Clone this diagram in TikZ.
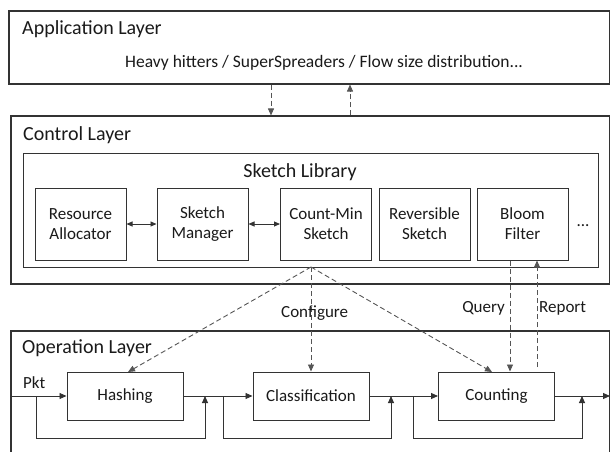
\documentclass[tikz,border=0pt]{standalone}
\usepackage{fontspec}
\setmainfont{Carlito}
\usetikzlibrary{arrows.meta}
\definecolor{edge}{HTML}{333333}
\definecolor{txt}{HTML}{1A1A1A}
\definecolor{dashcol}{HTML}{555555}
\tikzset{
  lbl/.style={font=\fontsize{17}{20}\selectfont, text=txt},
  ttl/.style={font=\fontsize{20}{24}\selectfont, text=txt},
  layer/.style={draw=edge, line width=1.1pt, fill=white, inner sep=0pt},
  unitbox/.style={draw=edge, line width=1pt, fill=white, inner sep=0pt,
    minimum width=91pt, minimum height=72pt, align=center, lbl},
  opbox/.style={draw=edge, line width=1pt, fill=white, inner sep=0pt,
    minimum width=116pt, minimum height=48pt, lbl},
  flow/.style={draw=edge, line width=0.9pt, -{Triangle[length=7pt,width=6pt]}},
  both/.style={draw=edge, line width=0.9pt, {Triangle[length=6pt,width=5pt]}-{Triangle[length=6pt,width=5pt]}},
  ctl/.style={draw=dashcol, line width=0.9pt, dash pattern=on 5pt off 3pt,
    -{Triangle[length=7pt,width=6pt,fill=dashcol]}},
}
\begin{document}
\begin{tikzpicture}[x=1pt,y=-1pt]
\useasboundingbox (0,0) rectangle (610,452);
\clip (0,0) rectangle (610,452);

% three layers
\node[layer, minimum width=600.5pt, minimum height=73pt] (app) at (309.25,47.5) {};
\node[layer, minimum width=598.5pt, minimum height=168pt] (ctrl) at (310.25,200) {};
\node[layer, minimum width=598.5pt, minimum height=139pt] (ops) at (310.25,400.5) {};

\node[ttl, anchor=base west, inner sep=0pt] (apptitle) at (22,35) {Application Layer};
\node[lbl, font=\fontsize{17.5}{21}\selectfont, anchor=base west, inner sep=0pt] (apptext) at (125,67) {Heavy hitters / SuperSpreaders / Flow size distribution...};
\node[ttl, anchor=base west, inner sep=0pt] (ctrltitle) at (23,140) {Control Layer};
\node[ttl, anchor=base west, inner sep=0pt] (opstitle) at (22,353) {Operation Layer};

% sketch library
\node[layer, line width=1pt, minimum width=575pt, minimum height=114pt] (lib) at (310.5,210) {};
\node[ttl, anchor=base, inner sep=0pt] (libtitle) at (300,177) {Sketch Library};
\node[unitbox] (res) at (80.5,224) {Resource\\Allocator};
\node[unitbox] (mgr) at (202.5,224) {Sketch\\Manager};
\node[unitbox] (cms) at (326,224) {Count-Min\\Sketch};
\node[unitbox] (rev) at (424.5,224) {Reversible\\Sketch};
\node[unitbox] (bf) at (522.5,224) {Bloom\\Filter};
\node[lbl, inner sep=0pt] (more) at (583,226) {...};
\draw[both] (res) -- (mgr);
\draw[both] (mgr) -- (cms);

% application <-> control
\coordinate (dn) at (271,0);
\coordinate (up) at (350,0);
\draw[ctl] (app.south -| dn) -- (ctrl.north -| dn);
\draw[ctl] (ctrl.north -| up) -- (app.south -| up);

% operation pipeline
\node[opbox] (hash) at (125,396) {Hashing};
\node[opbox] (cls) at (311,396) {Classification};
\node[opbox] (cnt) at (496.5,396) {Counting};
\coordinate (in) at (11,396);
\coordinate (out) at (610,396);
\node[lbl, anchor=base west, inner sep=0pt] (pkt) at (23,388) {Pkt};
\draw[flow] (in) -- (hash.west);
\draw[flow] (hash.east) -- (cls.west);
\draw[flow] (cls.east) -- (cnt.west);
\draw[flow] (cnt.east) -- (out);

% bypass paths
\coordinate (b1s) at (36,396);  \coordinate (b1e) at (205,396);
\coordinate (b2s) at (223,396); \coordinate (b2e) at (391,396);
\coordinate (b3s) at (413,396); \coordinate (b3e) at (582,396);
\draw[flow] (b1s) -- ++(0,42) -| (b1e);
\draw[flow] (b2s) -- ++(0,42) -| (b2e);
\draw[flow] (b3s) -- ++(0,42) -| (b3e);

% control -> operation
\coordinate (apex) at (311,267);
\coordinate (hashin) at (128,372);
\coordinate (cntin) at (492,372);
\draw[ctl] (apex) -- (hashin);
\draw[ctl] (apex) -- (cls.north);
\draw[ctl] (apex) -- (cntin);
\coordinate (qx) at (510,0);
\coordinate (rx) at (537,0);
\coordinate (rstart) at (537,367);
\draw[ctl] (bf.south -| qx) -- (cnt.north -| qx);
\draw[ctl] (rstart) -- (bf.south -| rx);
\node[lbl, anchor=base west, inner sep=0pt] (cfg) at (281,317) {Configure};
\node[lbl, anchor=base east, inner sep=0pt] (qry) at (505,312) {Query};
\node[lbl, anchor=base west, inner sep=0pt] (rep) at (539,312) {Report};
\end{tikzpicture}
\end{document}
